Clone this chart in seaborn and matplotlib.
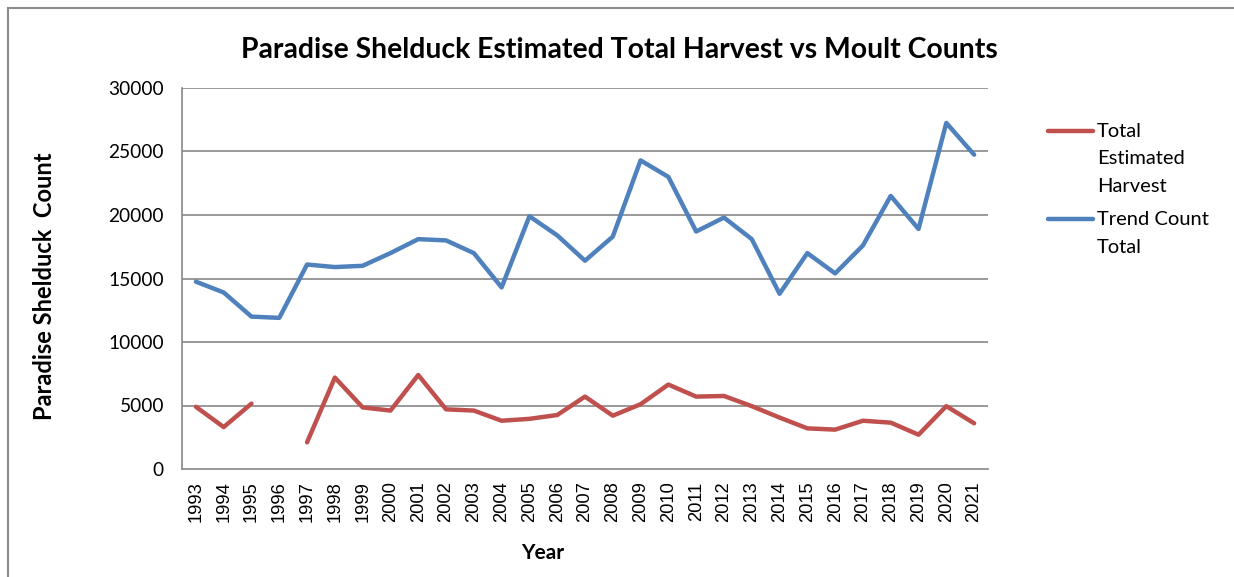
import matplotlib
matplotlib.use('Agg')
import matplotlib.pyplot as plt
import numpy as np
import pandas as pd
import seaborn as sns
from matplotlib.lines import Line2D
from matplotlib.patches import Rectangle

years = list(range(1993, 2022))
harvest = [4900, 3300, 5150, np.nan, 2100, 7200, 4850, 4600, 7400, 4700,
           4600, 3800, 3950, 4250, 5700, 4200, 5100, 6650, 5700, 5750,
           4950, 4050, 3200, 3100, 3800, 3650, 2700, 4950, 3600]
trend = [14750, 13900, 12000, 11900, 16100, 15900, 16000, 17000, 18100, 18000,
         17000, 14300, 19900, 18400, 16400, 18300, 24300, 23000, 18700, 19800,
         18100, 13800, 17000, 15400, 17600, 21500, 18900, 27250, 24750]
labels = [['Total', 'Estimated', 'Harvest'], ['Trend Count', 'Total']]
colors = ['#C0504D', '#4F81BD']

sns.set_style('white')
plt.rcParams['font.family'] = ['Lato', 'DejaVu Sans']
plt.rcParams['text.color'] = 'black'
plt.rcParams['axes.labelcolor'] = 'black'

df = pd.DataFrame({'pos': np.arange(len(years)), 'harvest': harvest, 'trend': trend})
# split harvest where a year is missing so the line shows a gap
df['seg'] = df['harvest'].isna().cumsum()
harv = df.dropna(subset=['harvest'])

fig = plt.figure(figsize=(12.34, 5.77), dpi=100)
ax = fig.add_axes([182 / 1234, 1 - 469 / 577, 806 / 1234, 381 / 577])

# outer chart frame
fig.patches.append(Rectangle((8 / 1234, -0.1), 1.2, 1 - 8 / 577 + 0.1,
                             transform=fig.transFigure, fill=False,
                             edgecolor='#8c8c8c', linewidth=1.5))

for y in range(5000, 30001, 5000):
    ax.axhline(y, color='#878787', linewidth=1.2, zorder=0)

sns.lineplot(data=harv, x='pos', y='harvest', units='seg', estimator=None,
             ax=ax, color=colors[0], linewidth=3.2, solid_capstyle='round')
sns.lineplot(data=df, x='pos', y='trend', ax=ax, color=colors[1],
             linewidth=3.2, solid_capstyle='round')

ax.set_xlim(-0.5, len(years) - 0.5)
ax.set_ylim(0, 30000)
ax.set_yticks(range(0, 30001, 5000))
ax.set_yticklabels([str(v) for v in range(0, 30001, 5000)], fontsize=13.8)
ax.set_xticks(np.arange(len(years)))
ax.set_xticklabels([str(y) for y in years], rotation=90,
                   fontsize=13.2, family='Liberation Sans')
ax.set_xticks(np.arange(len(years) + 1) - 0.5, minor=True)
ax.tick_params(axis='x', which='major', length=0, pad=9, labelcolor='black')
ax.tick_params(axis='x', which='minor', length=5, color='#878787', width=1.2)
ax.tick_params(axis='y', length=6, color='#878787', width=1.2, pad=7,
               labelcolor='black')

for side in ['top', 'right']:
    ax.spines[side].set_visible(False)
for side in ['left', 'bottom']:
    ax.spines[side].set_color('#878787')
    ax.spines[side].set_linewidth(1.2)

ax.set_xlabel('Year', fontsize=15, fontweight='bold')
ax.xaxis.set_label_coords((543 - 182) / 806, -(553 - 469) / 381)
ax.xaxis.label.set_va('center')
ax.set_ylabel('Paradise Shelduck  Count', fontsize=17, fontweight='bold')
ax.yaxis.set_label_coords(-(182 - 45) / 806, 0.48)
ax.yaxis.label.set_va('center')

fig.text(619 / 1234, 1 - 50 / 577, 'Paradise Shelduck Estimated Total Harvest vs Moult Counts',
         ha='center', va='center', fontsize=20.4, fontweight='bold')

# legend drawn by hand: handle sits on the first line of a wrapped label
legend_top = [137, 225]
for color, lines, base in zip(colors, labels, legend_top):
    fig.add_artist(Line2D([1048 / 1234, 1093 / 1234],
                          [1 - (base - 6) / 577] * 2, color=color,
                          linewidth=3.2, solid_capstyle='round',
                          transform=fig.transFigure))
    for i, line in enumerate(lines):
        fig.text(1097 / 1234, 1 - (base + 27.5 * i) / 577, line,
                 ha='left', va='baseline', fontsize=14.5)

fig.savefig('out.png', dpi=100)
